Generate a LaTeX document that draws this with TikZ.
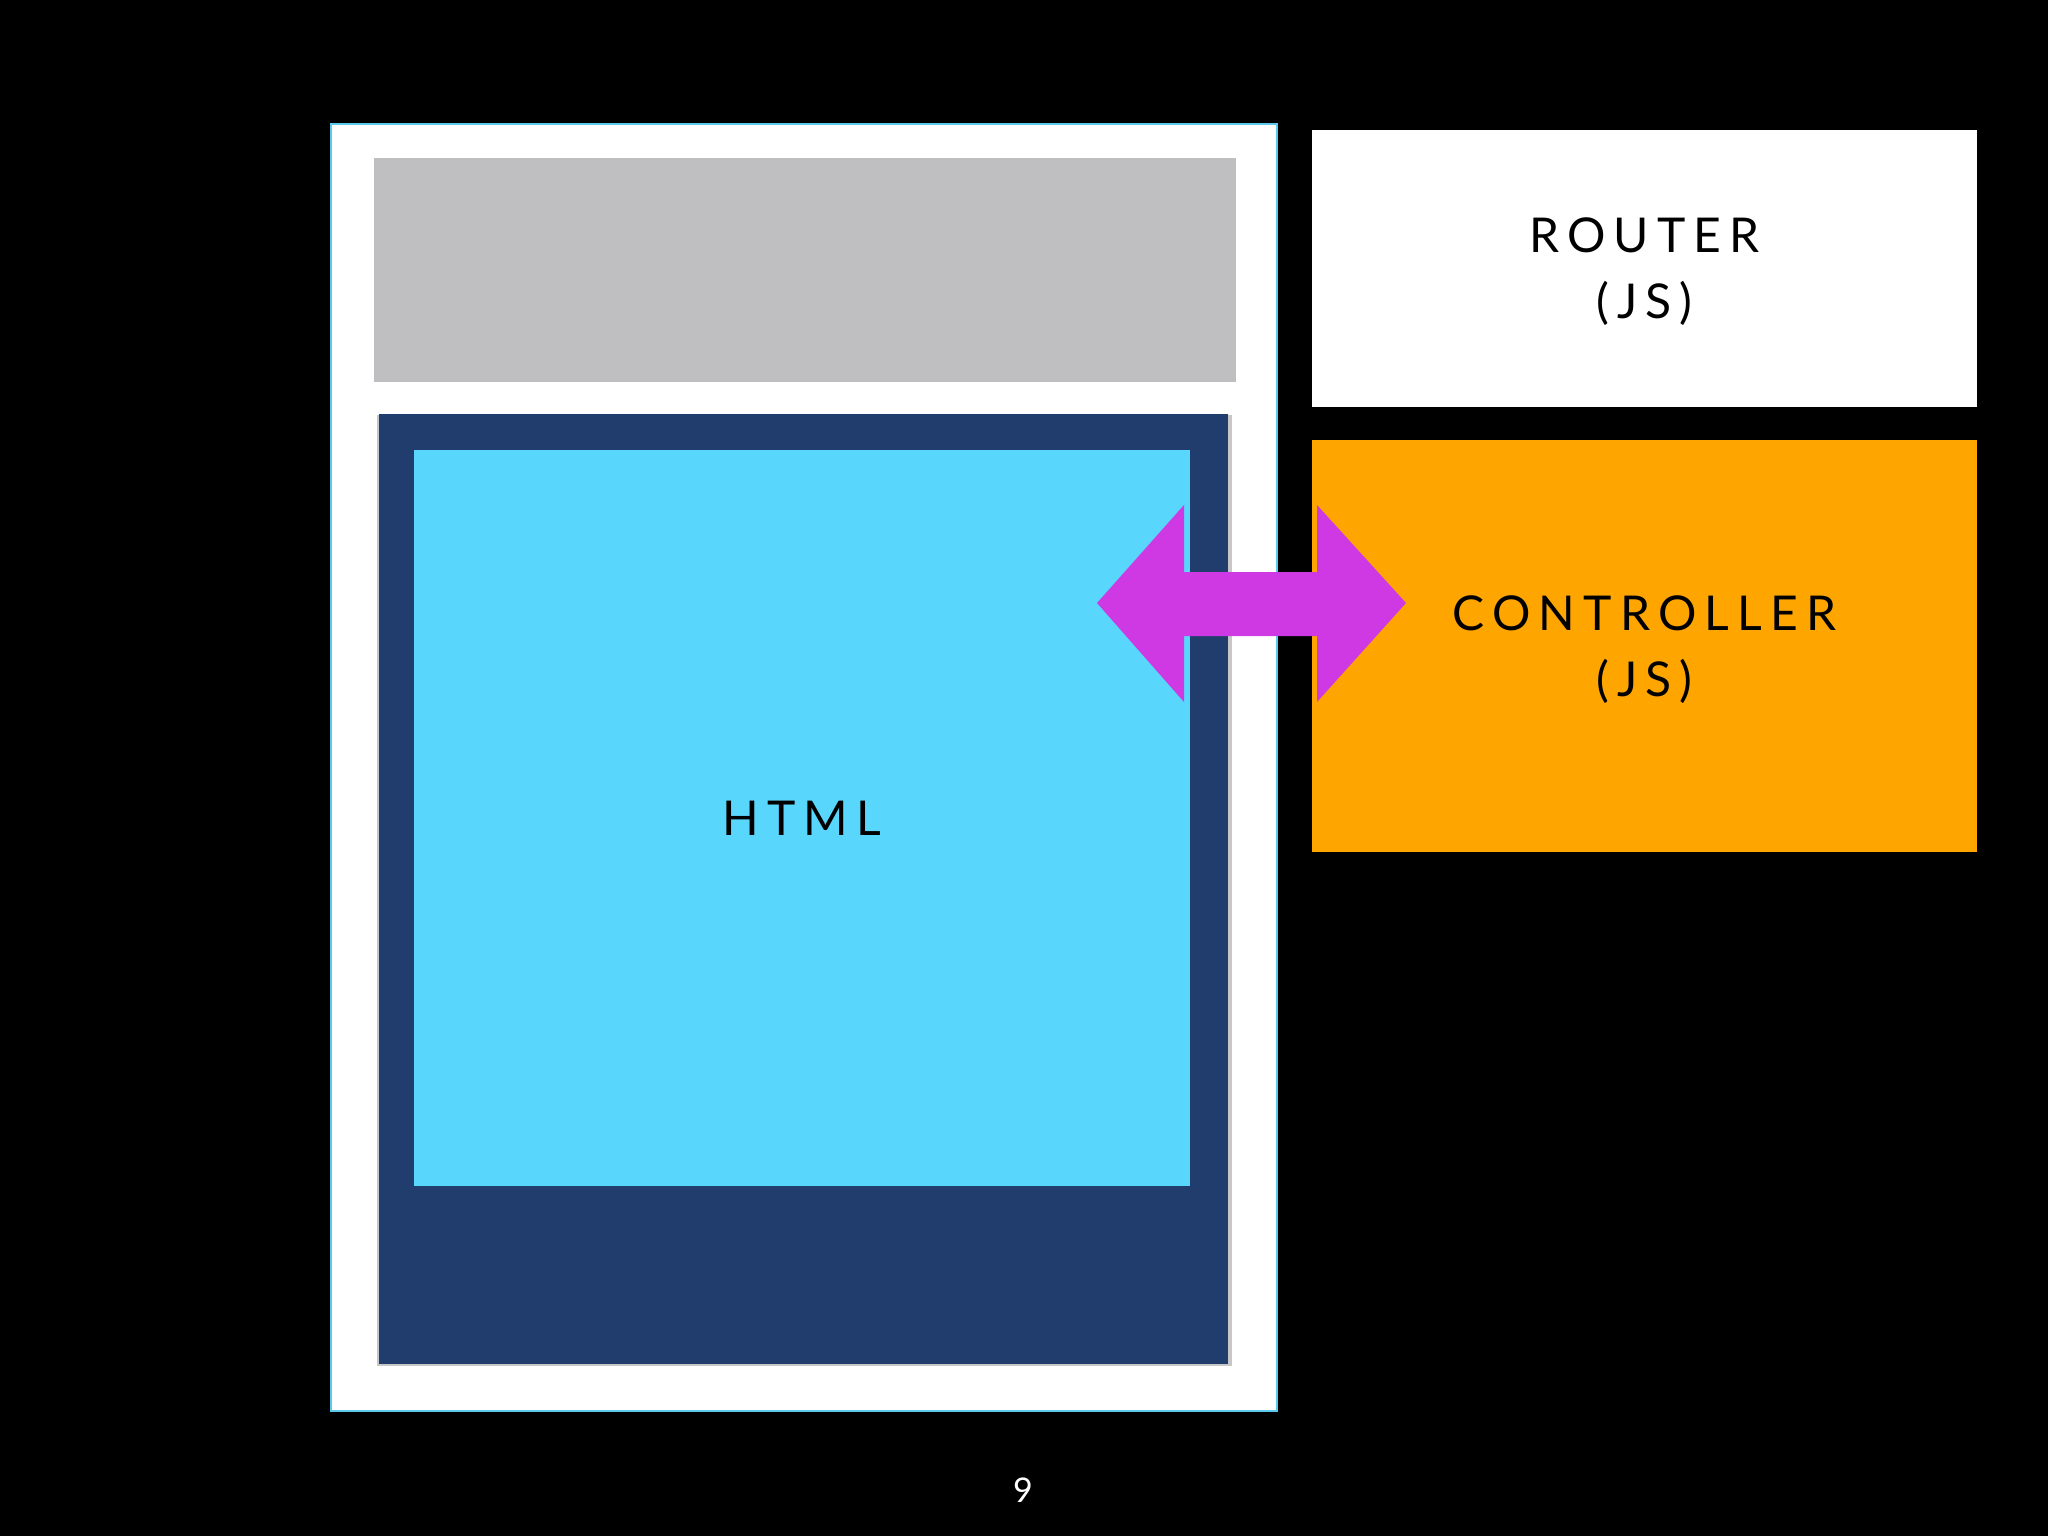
\documentclass[tikz,border=0pt]{standalone}
\usepackage{fontspec}
\setmainfont{Lato}
\newfontfamily\trackfont[LetterSpace=17]{Lato}
\definecolor{skyblue}{HTML}{58D6FC}
\definecolor{navy}{HTML}{213D6E}
\definecolor{bargray}{HTML}{BFBFC1}
\definecolor{ctrlorange}{HTML}{FEA500}
\definecolor{magenta}{HTML}{CF39E3}
\definecolor{frameblue}{HTML}{5BC8EC}
\tikzset{
  box/.style={anchor=north west, inner sep=0pt, outer sep=0pt},
  label/.style={font=\trackfont\fontsize{48}{66}\selectfont, align=center, text=black, inner sep=0pt},
}
\begin{document}
\begin{tikzpicture}[x=1pt,y=-1pt]
\useasboundingbox (0,0) rectangle (2048,1536);
\fill[black] (0,0) rectangle (2048,1536);
% browser frame
\node[box, fill=white, draw=frameblue, line width=1.5pt, minimum width=946pt, minimum height=1287pt] (frame) at (331,124) {};
\node[box, fill=bargray, minimum width=862pt, minimum height=224pt] (bar) at (374,158) {};
\fill[black!22] (376.5,415) rectangle (1232,1366);
\node[box, fill=navy, minimum width=849pt, minimum height=950pt] (page) at (379,414) {};
\node[box, fill=skyblue, minimum width=776pt, minimum height=736pt] (html) at (414,450) {};
\node[label] (htmltxt) at (html.center) {HTML};
% right boxes
\node[box, fill=white, minimum width=665pt, minimum height=277pt] (router) at (1312,130) {};
\node[label] (routertxt) at ([yshift=-3pt]router.center) {ROUTER\\(JS)};
\node[box, fill=ctrlorange, minimum width=665pt, minimum height=412pt] (ctrl) at (1312,440) {};
\node[label] (ctrltxt) at ([yshift=-4pt]ctrl.center) {CONTROLLER\\(JS)};
% double arrow
\fill[magenta] (1097,603) -- (1184,505) -- (1184,572) -- (1317,572) -- (1317,505)
  -- (1406,603) -- (1317,702) -- (1317,636) -- (1184,636) -- (1184,702) -- cycle;
% page number
\node[font=\fontsize{34}{40}\selectfont, text=white, inner sep=0pt] (pagenum) at (1023,1490) {9};
\end{tikzpicture}
\end{document}
